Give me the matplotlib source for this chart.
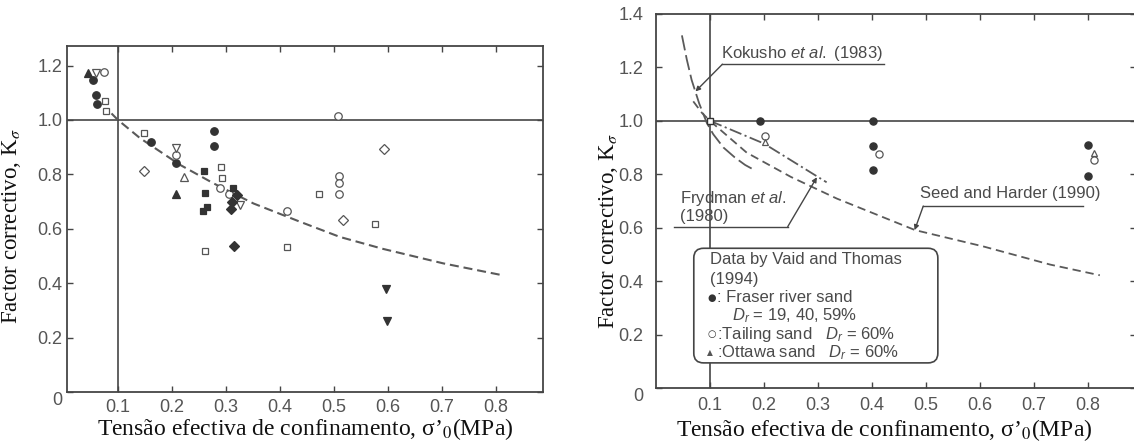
"""
plot.py - K sigma correction factor vs effective confining stress (two panels)
"""
import matplotlib
matplotlib.use('Agg')
import matplotlib.pyplot as plt
from matplotlib.patches import FancyBboxPatch

plt.rcParams['font.family'] = ['Liberation Sans', 'DejaVu Sans']
plt.rcParams['mathtext.fontset'] = 'custom'
plt.rcParams['mathtext.rm'] = 'Liberation Sans'
plt.rcParams['mathtext.it'] = 'Liberation Sans:italic'
plt.rcParams['lines.scale_dashes'] = False

FRAME = '#454545'
TICK = '#555555'
INK = '#333333'

x_ticks = [0.1, 0.2, 0.3, 0.4, 0.5, 0.6, 0.7, 0.8]
y_ticks_left = [0, 0.2, 0.4, 0.6, 0.8, 1.0, 1.2]
y_ticks_right = [0, 0.2, 0.4, 0.6, 0.8, 1.0, 1.2, 1.4]

# --- left panel: data points (several sands) ---
fc_x = [0.054, 0.059, 0.061, 0.161, 0.207, 0.277, 0.278]
fc_y = [1.147, 1.092, 1.058, 0.918, 0.841, 0.961, 0.906]
oc_x = [0.074, 0.207, 0.289, 0.306, 0.413, 0.508, 0.510, 0.510, 0.510]
oc_y = [1.178, 0.871, 0.749, 0.728, 0.665, 1.016, 0.795, 0.767, 0.728]
os_x = [0.076, 0.077, 0.149, 0.291, 0.292, 0.262, 0.413, 0.472, 0.575]
os_y = [1.071, 1.033, 0.953, 0.828, 0.788, 0.520, 0.532, 0.728, 0.616]
fs_x = [0.260, 0.262, 0.257, 0.265, 0.313]
fs_y = [0.813, 0.733, 0.665, 0.681, 0.749]
ft_x = [0.044, 0.207]
ft_y = [1.172, 0.728]
ot_x = [0.223]
ot_y = [0.789]
ov_x = [0.059, 0.207, 0.326]
ov_y = [1.174, 0.898, 0.686]
fv_x = [0.596, 0.598]
fv_y = [0.378, 0.262]
od_x = [0.149, 0.593, 0.516]
od_y = [0.814, 0.893, 0.632]
fd_x = [0.320, 0.312, 0.309, 0.314]
fd_y = [0.725, 0.700, 0.671, 0.538]

seed_l_x = [0.088, 0.100, 0.141, 0.215, 0.277, 0.351, 0.437, 0.511, 0.591, 0.702, 0.810]
seed_l_y = [1.024, 1.000, 0.933, 0.835, 0.767, 0.693, 0.626, 0.570, 0.526, 0.473, 0.430]

# --- right panel: Vaid and Thomas (1994) data and published curves ---
fraser_x = [0.193, 0.401, 0.401, 0.402, 0.800, 0.801]
fraser_y = [1.000, 1.000, 0.906, 0.816, 0.909, 0.795]
tailing_x = [0.201, 0.413, 0.812]
tailing_y = [0.943, 0.875, 0.853]
ottawa_x = [0.202, 0.812]
ottawa_y = [0.919, 0.881]

kok_x = [0.048, 0.057, 0.066, 0.080, 0.094, 0.106, 0.125, 0.146, 0.165, 0.183]
kok_y = [1.320, 1.230, 1.153, 1.065, 0.993, 0.950, 0.900, 0.863, 0.835, 0.815]
seed_r_x = [0.069, 0.085, 0.100, 0.168, 0.250, 0.335, 0.480, 0.606, 0.730, 0.822]
seed_r_y = [1.073, 1.030, 1.000, 0.881, 0.790, 0.709, 0.591, 0.530, 0.462, 0.422]
fryd_x = [0.100, 0.200, 0.316]
fryd_y = [1.000, 0.915, 0.770]

W, H = 1134, 441
fig = plt.figure(figsize=(W / 100, H / 100), dpi=100)
axL = fig.add_axes([67 / W, (H - 392) / H, (543 - 67) / W, (392 - 46) / H])
axR = fig.add_axes([656 / W, (H - 388) / H, (1136 - 656) / W, (388 - 14) / H])


def fmt(v):
    return '0' if v == 0 else f'{v:.1f}'


def style(ax, xlim, ylim, yticks, xpad, ypad):
    ax.set_xlim(xlim)
    ax.set_ylim(ylim)
    ax.set_xticks(x_ticks)
    ax.set_xticklabels([fmt(v) for v in x_ticks])
    ax.set_yticks(yticks)
    ax.set_yticklabels([fmt(v) for v in yticks])
    ax.tick_params(direction='in', top=True, right=True, length=4, width=1,
                   color=FRAME, labelcolor=TICK, labelsize=13)
    ax.tick_params(axis='x', pad=xpad)
    ax.tick_params(axis='y', pad=ypad)
    ax.get_yticklabels()[0].set_va('top')
    for s in ax.spines.values():
        s.set_color(FRAME)
        s.set_linewidth(1.3)
    ax.axhline(1.0, color=FRAME, lw=1.2, zorder=1)
    ax.axvline(0.1, color=FRAME, lw=1.2, zorder=1)
    ax.set_ylabel('Factor correctivo, K$_{\\sigma}$', family='Liberation Serif',
                  fontsize=16.5, color='#111111', math_fontfamily='stix')
    ax.set_xlabel('Tensão efectiva de confinamento, σ’$_{0}$(MPa)',
                  family='Liberation Serif', fontsize=17, color='#111111',
                  math_fontfamily='stix')


style(axL, (0.0056, 0.887), (0, 1.272), y_ticks_left, 5, 3.5)
style(axR, (0.0, 0.889), (0, 1.385), y_ticks_right, 6.5, 9)
axL.yaxis.set_label_coords(-0.093, 0.48)
axL.xaxis.set_label_coords(0.5, -0.070)
axR.yaxis.set_label_coords(-0.075, 0.42)
axR.xaxis.set_label_coords(0.475, -0.077)

# left panel marks
mk = dict(ls='none', ms=5.4, mew=0.9, zorder=3)
axL.plot(seed_l_x, seed_l_y, color='#5a5a5a', lw=1.5, dashes=(6.5, 3.5), zorder=2)
axL.plot(fc_x, fc_y, 'o', mfc=INK, mec=INK, **mk)
axL.plot(oc_x, oc_y, 'o', mfc='white', mec=TICK, **mk)
axL.plot(os_x, os_y, 's', mfc='white', mec=TICK, **dict(mk, ms=4.8))
axL.plot(fs_x, fs_y, 's', mfc=INK, mec=INK, **dict(mk, ms=4.8))
axL.plot(ft_x, ft_y, '^', mfc=INK, mec=INK, **mk)
axL.plot(ot_x, ot_y, '^', mfc='white', mec=TICK, **mk)
axL.plot(ov_x, ov_y, 'v', mfc='white', mec=TICK, **mk)
axL.plot(fv_x, fv_y, 'v', mfc=INK, mec=INK, **mk)
axL.plot(od_x, od_y, 'D', mfc='white', mec=TICK, **dict(mk, ms=4.6))
axL.plot(fd_x, fd_y, 'D', mfc=INK, mec=INK, **dict(mk, ms=4.6))

# right panel curves
axR.plot(kok_x, kok_y, color='#5a5a5a', lw=1.3, dashes=(11, 3.5), zorder=2)
axR.plot(seed_r_x, seed_r_y, color='#5a5a5a', lw=1.3, dashes=(6, 3.5), zorder=2)
axR.plot(fryd_x, fryd_y, color='#5a5a5a', lw=1.3, dashes=(9, 2.5, 1.5, 2.5), zorder=2)
axR.plot([0.1], [1.0], 's', ms=4, mfc='white', mec=INK, mew=1, zorder=3)

rk = dict(ls='none', ms=5.2, mew=0.9, zorder=3)
axR.plot(fraser_x, fraser_y, 'o', mfc=INK, mec=INK, **rk)
axR.plot(tailing_x, tailing_y, 'o', mfc='white', mec=TICK, **rk)
axR.plot(ottawa_x, ottawa_y, '^', mfc='white', mec=TICK, **dict(rk, ms=4.6))

# annotations
txt = dict(fontsize=12, color='#4a4a4a', va='center', ha='left', zorder=5)
arr = dict(arrowstyle='-|>', lw=1, color=FRAME, mutation_scale=7,
           shrinkA=0, shrinkB=0)
axR.text(0.120, 1.252, 'Kokusho $\\it{et\\ al.}$ (1983)', **txt)
axR.plot([0.123, 0.422], [1.212, 1.212], color=FRAME, lw=1)
axR.annotate('', xy=(0.073, 1.11), xytext=(0.123, 1.212), arrowprops=arr)

axR.text(0.045, 0.708, 'Frydman $\\it{et\\ al.}$', **txt)
axR.text(0.045, 0.641, '(1980)', **txt)
axR.plot([0.033, 0.244], [0.604, 0.604], color=FRAME, lw=1)
axR.annotate('', xy=(0.298, 0.789), xytext=(0.244, 0.604), arrowprops=arr)

axR.text(0.489, 0.727, 'Seed and Harder (1990)', **txt)
axR.plot([0.495, 0.790], [0.681, 0.681], color=FRAME, lw=1)
axR.annotate('', xy=(0.479, 0.591), xytext=(0.495, 0.681), arrowprops=arr)

box = FancyBboxPatch((0.070, 0.094), 0.452, 0.429,
                     boxstyle='round,pad=0,rounding_size=0.018',
                     mutation_aspect=2, fc='white', ec=FRAME, lw=1.2, zorder=4)
axR.add_patch(box)
axR.text(0.100, 0.480, 'Data by Vaid and Thomas', **txt)
axR.text(0.100, 0.406, '(1994)', **txt)
axR.text(0.095, 0.338, '●', fontsize=7, color=INK, va='center', ha='left', zorder=5,
         family='DejaVu Sans')
axR.text(0.113, 0.338, ': Fraser river sand', **txt)
axR.text(0.140, 0.270, '$D_r$ = 19, 40, 59%', **txt)
axR.text(0.095, 0.202, '○', fontsize=7, color=INK, va='center', ha='left', zorder=5,
         family='DejaVu Sans')
axR.text(0.113, 0.202, ':Tailing sand   $D_r$ = 60%', **txt)
axR.text(0.095, 0.131, '▲', fontsize=5.5, color=TICK, va='center', ha='left', zorder=5,
         family='DejaVu Sans')
axR.text(0.113, 0.131, ':Ottawa sand   $D_r$ = 60%', **txt)

fig.savefig('out.png', dpi=100)
